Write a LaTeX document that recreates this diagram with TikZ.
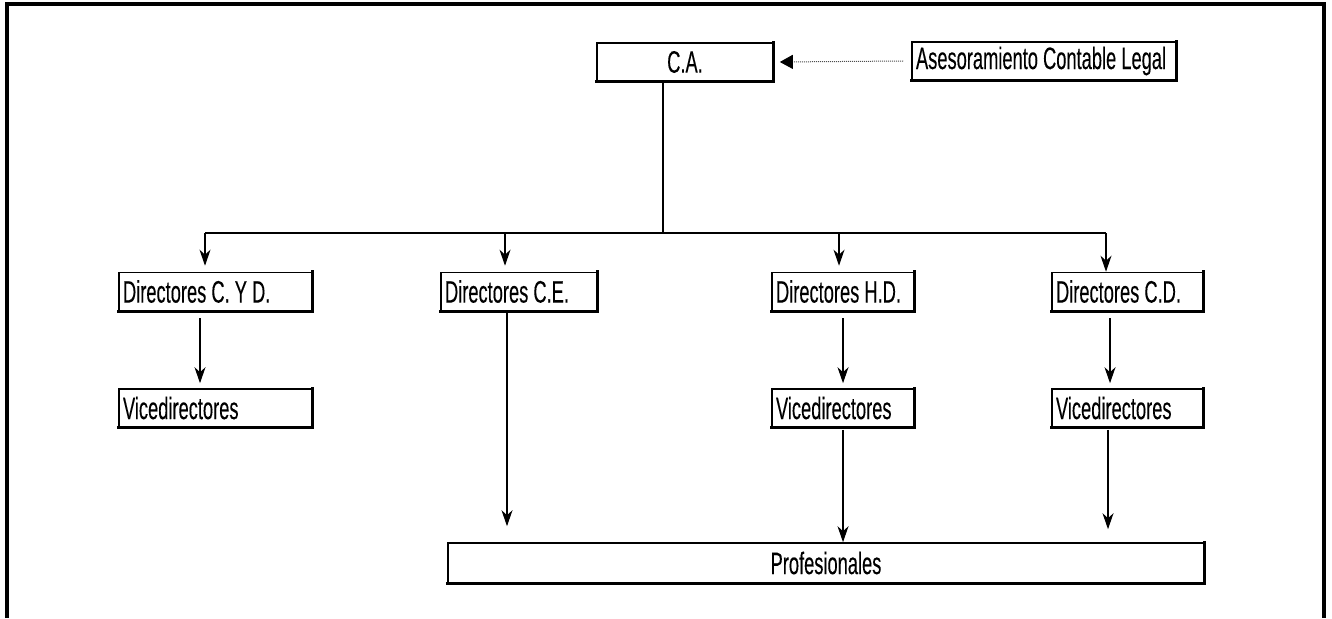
\documentclass[tikz,border=0pt]{standalone}
\usepackage{fontspec}
\setmainfont{Liberation Sans}[FakeStretch=0.59, FakeBold=0.2]
\usetikzlibrary{arrows.meta}
\tikzset{
  box/.style={draw, line width=1.6pt, minimum height=38pt, inner ysep=0pt,
    font=\fontsize{31}{33}\selectfont},
  lbox/.style={box, inner xsep=4pt, text width=#1, align=flush left},
  cbox/.style={box, minimum width=#1},
  heavy/.style={line width=3.2pt, line cap=rect},
  link/.style={line width=1.1pt},
  arr/.style={link, -{Stealth[length=16pt, width=11pt, inset=5pt]}},
  advice/.style={line width=1pt, densely dotted, black!70,
    -{Triangle[length=13pt, width=14pt, fill=black, color=black]}},
  frame/.style={line width=4pt}
}
\begin{document}
\begin{tikzpicture}[x=1pt, y=-1pt]
\useasboundingbox (0,0) rectangle (1332,618);
% open frame (no bottom edge)
\draw[frame] (6.5,618) -- (6.5,4.5) -- (1324,4.5) -- (1324,618);

% top level
\node[cbox=176] (ca) at (685,62) {C.A.};
\node[lbox=256] (ase) at (1044,61) {Asesoramiento Contable Legal};

% directors
\node[lbox=185] (d1) at (215.5,291.5) {Directores C. Y D.};
\node[lbox=148] (d2) at (519,291.5) {Directores C.E.};
\node[lbox=134] (d3) at (843,291.5) {Directores H.D.};
\node[lbox=143] (d4) at (1127.5,291.5) {Directores C.D.};

% vice-directors
\node[lbox=185] (v1) at (215.5,408) {Vicedirectores};
\node[lbox=134] (v3) at (843,408) {Vicedirectores};
\node[lbox=143] (v4) at (1127.5,408) {Vicedirectores};

% professionals
\node[cbox=756, minimum height=40pt] (prof) at (826,563) {Profesionales};

% heavier lower and right edges of every box
\foreach \n in {ca,ase,d1,d2,d3,d4,v1,v3,v4,prof}
  \draw[heavy] (\n.south west) -- (\n.south east) -- (\n.north east);

% advisory link
\draw[advice] (ase.west) ++(-8,0) coordinate (adv) (adv) -- ([xshift=6pt]ca.east);

% distribution bus
\coordinate (stem) at (663,233);
\coordinate (j1) at (205,233);
\coordinate (j2) at (505,233);
\coordinate (j3) at (839,233);
\coordinate (j4) at (1106,233);
\draw[link] (ca.south -| stem) -- (stem);
\draw[link] (j1) -- (j4);
\draw[line width=2.4pt] (718,233) -- (775,233);

\draw[arr] (j1) -- ([yshift=6pt]d1.north -| j1);
\draw[arr] (j2) -- ([yshift=6pt]d2.north -| j2);
\draw[arr] (j3) -- ([yshift=6pt]d3.north -| j3);
\draw[arr] (j4) -- (d4.north -| j4);

% directors to vice-directors
\coordinate (c1) at (200,0);
\coordinate (c3) at (843,0);
\coordinate (c4) at (1110,0);
\draw[arr] ([yshift=-7pt]d1.south -| c1) -- ([yshift=5pt]v1.north -| c1);
\draw[arr] ([yshift=-7pt]d3.south -| c3) -- ([yshift=5pt]v3.north -| c3);
\draw[arr] ([yshift=-7pt]d4.south -| c4) -- ([yshift=5pt]v4.north -| c4);

% down to professionals
\coordinate (p2) at (507,0);
\coordinate (p3) at (843,0);
\coordinate (p4) at (1108,0);
\draw[arr] (d2.south -| p2) -- ([yshift=16pt]prof.north -| p2);
\draw[arr] ([yshift=-2pt]v3.south -| p3) -- (prof.north -| p3);
\draw[arr] ([yshift=-2pt]v4.south -| p4) -- ([yshift=13pt]prof.north -| p4);
\end{tikzpicture}
\end{document}
